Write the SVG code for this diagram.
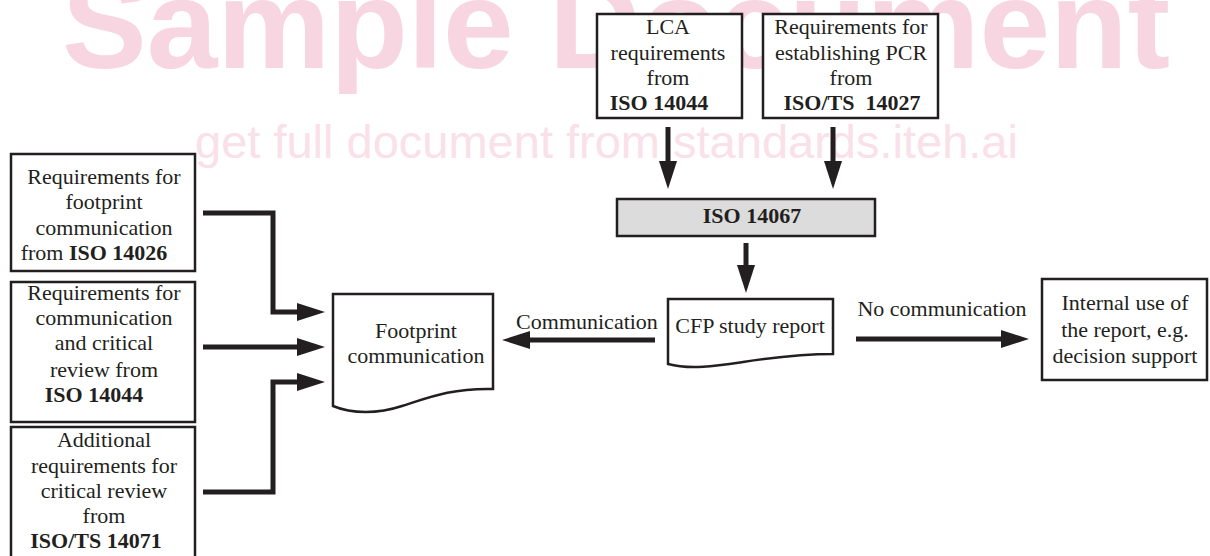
<svg xmlns="http://www.w3.org/2000/svg" width="1210" height="556" viewBox="0 0 1210 556">
<defs>
<style>
.box{fill:#fff;stroke:#231f20;stroke-width:2.5}
.gray{fill:#dcdcdc;stroke:#231f20;stroke-width:2.5}
.t{font-family:"Liberation Serif","Times New Roman",serif;font-size:22px;fill:#231f20;text-anchor:middle}
.b{font-weight:bold}
.conn path{fill:none;stroke:#231f20;stroke-width:5;stroke-linejoin:miter;marker-end:url(#ah)}
.wm{font-family:"Liberation Sans",Arial,sans-serif}
</style>
<marker id="ah" markerUnits="userSpaceOnUse" markerWidth="28" markerHeight="18" refX="14" refY="9" orient="auto">
<path d="M0,0 L28,9 L0,18 Z" fill="#231f20"/>
</marker>
</defs>
<rect width="1210" height="556" fill="#fff"/>
<g id="watermark">
<text class="wm" x="62" y="68" font-size="127" font-weight="bold" fill="#f7d5e1">Sample Document</text>
<text class="wm" x="195" y="158" font-size="47" fill="#fae0e8">get full document from standards.iteh.ai</text>
</g>
<g id="lca">
<rect class="box" x="597" y="14" width="145" height="104"/>
<text class="t" x="668" y="34">LCA</text>
<text class="t" x="668" y="60">requirements</text>
<text class="t" x="668" y="85">from</text>
<text class="t b" x="659" y="110">ISO 14044</text>
</g>
<g id="pcr">
<rect class="box" x="763" y="14" width="175" height="104"/>
<text class="t" x="851" y="34">Requirements for</text>
<text class="t" x="851" y="60">establishing PCR</text>
<text class="t" x="851" y="85">from</text>
<text class="t b" x="852" y="110" xml:space="preserve">ISO/TS  14027</text>
</g>
<g id="iso14067">
<rect class="gray" x="617" y="199" width="258" height="37"/>
<text class="t b" x="752" y="223">ISO 14067</text>
</g>
<g id="req14026">
<rect class="box" x="11" y="154" width="184" height="117"/>
<text class="t" x="104" y="184">Requirements for</text>
<text class="t" x="104" y="209">footprint</text>
<text class="t" x="104" y="235">communication</text>
<text class="t" x="94" y="260">from <tspan class="b">ISO 14026</tspan></text>
</g>
<g id="req14044">
<rect class="box" x="11" y="282" width="184" height="140"/>
<text class="t" x="104" y="300">Requirements for</text>
<text class="t" x="104" y="325">communication</text>
<text class="t" x="104" y="350">and critical</text>
<text class="t" x="104" y="377">review from</text>
<text class="t b" x="94" y="402">ISO 14044</text>
</g>
<g id="req14071">
<rect class="box" x="11" y="427" width="184" height="140"/>
<text class="t" x="104" y="447">Additional</text>
<text class="t" x="104" y="473">requirements for</text>
<text class="t" x="104" y="498">critical review</text>
<text class="t" x="104" y="523">from</text>
<text class="t b" x="96" y="548">ISO/TS 14071</text>
</g>
<g id="footprint">
<path class="box" d="M333,294 H493 V389 C452,388 430,397 402,406 C378,414 352,414 333,406 Z"/>
<text class="t" x="416" y="338">Footprint</text>
<text class="t" x="416" y="363">communication</text>
</g>
<g id="cfp">
<path class="box" d="M668,299 H833 V354 C798,354 770,358 743,362 C716,366 690,370 668,364 Z"/>
<text class="t" x="750" y="333">CFP study report</text>
</g>
<g id="internal">
<rect class="box" x="1042" y="279" width="165" height="101"/>
<text class="t" x="1125" y="310">Internal use of</text>
<text class="t" x="1125" y="337">the report, e.g.</text>
<text class="t" x="1125" y="363">decision support</text>
</g>
<g id="connectors" class="conn">
<path d="M203,213 H273 V312 H311"/>
<path d="M203,347 H311"/>
<path d="M203,492 H273 V382 H311"/>
<path d="M668,127 V175"/>
<path d="M833,127 V175"/>
<path d="M746,243 V279"/>
<path d="M655,340 H516"/>
<path d="M856,339 H1015"/>
</g>
<g id="labels">
<text class="t" x="587" y="329">Communication</text>
<text class="t" x="942" y="316">No communication</text>
</g>
</svg>
